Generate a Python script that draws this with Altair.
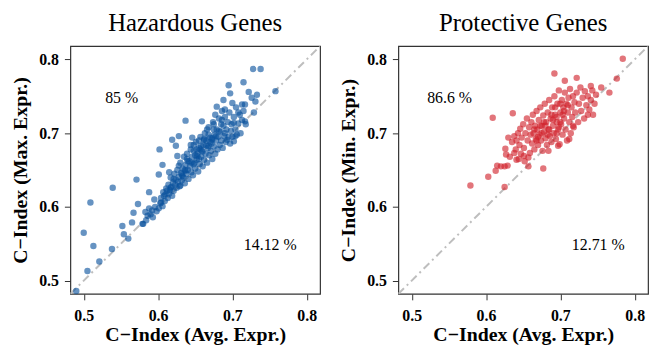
import altair as alt
import pandas as pd

# Hazardous genes: C-index with average expression (x) vs max expression (y)
haz_x = [0.490, 0.505, 0.521, 0.500, 0.513, 0.509, 0.538, 0.539, 0.552, 0.554, 0.560, 0.571, 0.565, 0.567,
         0.573, 0.579, 0.583, 0.588, 0.592, 0.588, 0.602, 0.601, 0.604, 0.608, 0.612, 0.617, 0.606, 0.615,
         0.619, 0.624, 0.628, 0.637, 0.626, 0.628, 0.633, 0.621, 0.630, 0.637, 0.639, 0.644, 0.646, 0.648,
         0.653, 0.657, 0.659, 0.662, 0.666, 0.668, 0.673, 0.675, 0.677, 0.679, 0.682, 0.686, 0.688, 0.690,
         0.693, 0.695, 0.697, 0.700, 0.702, 0.704, 0.702, 0.708, 0.713, 0.715, 0.717, 0.722, 0.729, 0.728,
         0.738, 0.733, 0.731, 0.758, 0.726, 0.717,
         0.580, 0.584, 0.586, 0.590, 0.593, 0.596, 0.598, 0.595,
         0.601, 0.603, 0.604, 0.606, 0.607, 0.609, 0.610, 0.611, 0.613, 0.614, 0.615, 0.616, 0.617, 0.618,
         0.619, 0.620,
         0.621, 0.622, 0.623, 0.624, 0.625, 0.626, 0.627, 0.628, 0.629, 0.630, 0.631, 0.632, 0.633, 0.634,
         0.635, 0.636, 0.637, 0.638, 0.639, 0.640,
         0.641, 0.642, 0.643, 0.644, 0.645, 0.646, 0.647, 0.648, 0.649, 0.650, 0.651, 0.652, 0.653, 0.654,
         0.655, 0.656, 0.657, 0.658, 0.659, 0.660,
         0.661, 0.662, 0.663, 0.664, 0.665, 0.666, 0.667, 0.668, 0.669, 0.670, 0.671, 0.672, 0.673, 0.674,
         0.675, 0.676, 0.677, 0.678, 0.679, 0.680,
         0.681, 0.682, 0.683, 0.684, 0.685, 0.686, 0.687, 0.688, 0.689, 0.690, 0.691, 0.692, 0.694, 0.695,
         0.696, 0.697, 0.698, 0.699, 0.700,
         0.702, 0.704, 0.705, 0.706, 0.708, 0.710, 0.711, 0.713, 0.715, 0.718,
         0.645, 0.650, 0.655, 0.660, 0.665, 0.670, 0.655, 0.640, 0.648, 0.662, 0.668, 0.675, 0.685, 0.690,
         0.678, 0.673, 0.658, 0.652, 0.636, 0.632]
haz_y = [0.486, 0.513, 0.526, 0.565, 0.547, 0.606, 0.543, 0.626, 0.574, 0.563, 0.557, 0.637, 0.579, 0.592,
         0.604, 0.577, 0.593, 0.620, 0.595, 0.598, 0.678, 0.644, 0.606, 0.615, 0.622, 0.626, 0.657, 0.647,
         0.691, 0.683, 0.696, 0.717, 0.669, 0.656, 0.642, 0.638, 0.629, 0.649, 0.665, 0.678, 0.694, 0.658,
         0.669, 0.678, 0.716, 0.691, 0.705, 0.683, 0.691, 0.712, 0.725, 0.736, 0.703, 0.718, 0.745, 0.732,
         0.691, 0.765, 0.754, 0.741, 0.714, 0.696, 0.689, 0.728, 0.739, 0.769, 0.716, 0.756, 0.728, 0.787,
         0.787, 0.752, 0.743, 0.757, 0.748, 0.739,
         0.577, 0.582, 0.588, 0.590, 0.586, 0.600, 0.594, 0.610,
         0.598, 0.605, 0.612, 0.601, 0.620, 0.608, 0.617, 0.625, 0.612, 0.630, 0.618, 0.623, 0.640, 0.627,
         0.615, 0.633,
         0.622, 0.645, 0.630, 0.637, 0.626, 0.650, 0.634, 0.641, 0.628, 0.660, 0.646, 0.636, 0.652, 0.640,
         0.668, 0.632, 0.657, 0.645, 0.672, 0.650,
         0.638, 0.662, 0.655, 0.684, 0.647, 0.668, 0.643, 0.676, 0.660, 0.652, 0.688, 0.664, 0.672, 0.648,
         0.680, 0.658, 0.695, 0.668, 0.676, 0.655,
         0.684, 0.664, 0.700, 0.672, 0.690, 0.660, 0.680, 0.708, 0.670, 0.694, 0.676, 0.686, 0.665, 0.715,
         0.682, 0.698, 0.672, 0.690, 0.705, 0.678,
         0.695, 0.720, 0.684, 0.702, 0.690, 0.730, 0.680, 0.710, 0.696, 0.722, 0.688, 0.705, 0.715, 0.695,
         0.728, 0.686, 0.703, 0.712, 0.695,
         0.722, 0.705, 0.735, 0.698, 0.713, 0.725, 0.700, 0.718, 0.730, 0.712,
         0.660, 0.670, 0.665, 0.675, 0.683, 0.688, 0.690, 0.662, 0.684, 0.692, 0.698, 0.705, 0.712, 0.700,
         0.696, 0.693, 0.683, 0.678, 0.650, 0.644]

# Protective genes: C-index with average expression (x) vs min expression (y)
pro_x = [0.579, 0.603, 0.613, 0.609, 0.625, 0.615, 0.620, 0.625, 0.629, 0.626, 0.630, 0.627, 0.636, 0.638,
         0.641, 0.677, 0.657, 0.651, 0.692, 0.706, 0.722, 0.784, 0.776, 0.766, 0.755, 0.741, 0.744, 0.737,
         0.717, 0.712, 0.697, 0.684,
         0.641, 0.643, 0.645, 0.646, 0.648, 0.650, 0.651, 0.653, 0.655, 0.656, 0.658, 0.659, 0.660,
         0.661, 0.662, 0.663, 0.664, 0.665, 0.666, 0.667, 0.668, 0.669, 0.670, 0.671, 0.672, 0.673, 0.674,
         0.675, 0.676, 0.677, 0.678, 0.679, 0.680,
         0.681, 0.682, 0.683, 0.684, 0.685, 0.686, 0.687, 0.688, 0.689, 0.690, 0.691, 0.692, 0.693, 0.694,
         0.695, 0.696, 0.697, 0.698, 0.699, 0.700,
         0.701, 0.702, 0.703, 0.704, 0.705, 0.706, 0.707, 0.708, 0.709, 0.710, 0.711, 0.712, 0.713, 0.714,
         0.715, 0.716, 0.717, 0.718, 0.719, 0.720,
         0.722, 0.724, 0.725, 0.727, 0.728, 0.730, 0.732, 0.733, 0.735, 0.737, 0.739, 0.741, 0.743, 0.746,
         0.748,
         0.680, 0.685, 0.690, 0.695, 0.700, 0.705, 0.675, 0.670, 0.665, 0.688, 0.693, 0.698, 0.703, 0.710,
         0.678, 0.683, 0.673, 0.668, 0.695, 0.700,
         0.632, 0.635, 0.638, 0.640, 0.644, 0.647, 0.652, 0.657]
pro_y = [0.629, 0.641, 0.649, 0.721, 0.627, 0.656, 0.655, 0.655, 0.656, 0.679, 0.694, 0.671, 0.727, 0.673,
         0.664, 0.652, 0.655, 0.669, 0.781, 0.771, 0.775, 0.801, 0.774, 0.755, 0.762, 0.764, 0.725, 0.725,
         0.710, 0.692, 0.683, 0.676,
         0.690, 0.700, 0.684, 0.706, 0.694, 0.712, 0.680, 0.700, 0.720, 0.690, 0.708, 0.673, 0.698,
         0.715, 0.686, 0.725, 0.700, 0.678, 0.710, 0.692, 0.730, 0.705, 0.684, 0.718, 0.698, 0.735, 0.690,
         0.710, 0.676, 0.724, 0.702, 0.740, 0.693,
         0.715, 0.684, 0.728, 0.705, 0.745, 0.696, 0.720, 0.688, 0.735, 0.710, 0.700, 0.750, 0.725, 0.692,
         0.715, 0.740, 0.705, 0.758, 0.685, 0.728,
         0.712, 0.745, 0.698, 0.735, 0.720, 0.755, 0.705, 0.740, 0.690, 0.728, 0.748, 0.715, 0.760, 0.700,
         0.735, 0.722, 0.750, 0.708, 0.742, 0.728,
         0.755, 0.715, 0.740, 0.762, 0.730, 0.748, 0.720, 0.757, 0.738, 0.750, 0.732, 0.745, 0.758, 0.740,
         0.752,
         0.710, 0.705, 0.718, 0.722, 0.715, 0.730, 0.700, 0.695, 0.705, 0.725, 0.735, 0.708, 0.725, 0.738,
         0.715, 0.698, 0.710, 0.690, 0.700, 0.740,
         0.668, 0.688, 0.696, 0.678, 0.665, 0.672, 0.662, 0.667]

x_title = "C\u2212Index (Avg. Expr.)"
panels = [
    ("Hazardous Genes", "C\u2212Index (Max. Expr.)", haz_x, haz_y, "#08519C", "85 %", "14.12 %"),
    ("Protective Genes", "C\u2212Index (Min. Expr.)", pro_x, pro_y, "#D0202A", "86.6 %", "12.71 %"),
]
diag_vals = [0.482, 0.818]
tick_vals = [0.5, 0.6, 0.7, 0.8]
label_x = [0.551, 0.751]
label_y = [0.748, 0.548]

DOM = [0.482, 0.818]
FONT = "Liberation Serif"


def panel(title, ytitle, xs, ys, color, up, down):
    pts = pd.DataFrame({"x": xs, "y": ys})
    diag = pd.DataFrame({"x": diag_vals, "y": diag_vals})
    labs = pd.DataFrame({"x": label_x, "y": label_y, "t": [up, down]})
    xs_ = alt.Scale(domain=DOM, nice=False, zero=False)
    ys_ = alt.Scale(domain=DOM, nice=False, zero=False)
    xax = alt.Axis(values=tick_vals, format=".1f", title=x_title)
    yax = alt.Axis(values=tick_vals, format=".1f", title=ytitle)
    line = alt.Chart(diag).mark_line(color="#BEBEBE", strokeWidth=2, strokeDash=[8, 4, 2, 4], clip=True).encode(
        x=alt.X("x:Q", scale=xs_, axis=xax), y=alt.Y("y:Q", scale=ys_, axis=yax))
    dots = alt.Chart(pts).mark_circle(size=42, color=color, opacity=0.62).encode(
        x=alt.X("x:Q", scale=xs_), y=alt.Y("y:Q", scale=ys_))
    txt = alt.Chart(labs).mark_text(font=FONT, fontSize=16, color="black").encode(
        x=alt.X("x:Q", scale=xs_), y=alt.Y("y:Q", scale=ys_), text="t:N")
    return alt.layer(line, dots, txt).properties(
        width=252, height=250,
        title=alt.TitleParams(title, font=FONT, fontSize=25, fontWeight="normal", frame="group",
                              anchor="middle", offset=10, color="black"))


charts = [panel(*p) for p in panels]
chart = alt.hconcat(*charts, spacing=17).properties(
    padding={"left": 10, "top": 9, "right": 4, "bottom": 0}
).configure_view(stroke="#333333", strokeWidth=1.2).configure_axis(
    labelFont=FONT, titleFont=FONT, labelFontSize=16, titleFontSize=20,
    labelFontWeight="bold", titleFontWeight="bold", labelColor="black", titleColor="black",
    grid=False, domain=False, tickColor="#333333", tickSize=6
).configure_axisY(labelPadding=6, titlePadding=8).configure_axisX(labelPadding=8, titlePadding=1)

chart.save("out.html", embed_options={"renderer": "svg", "actions": False})
